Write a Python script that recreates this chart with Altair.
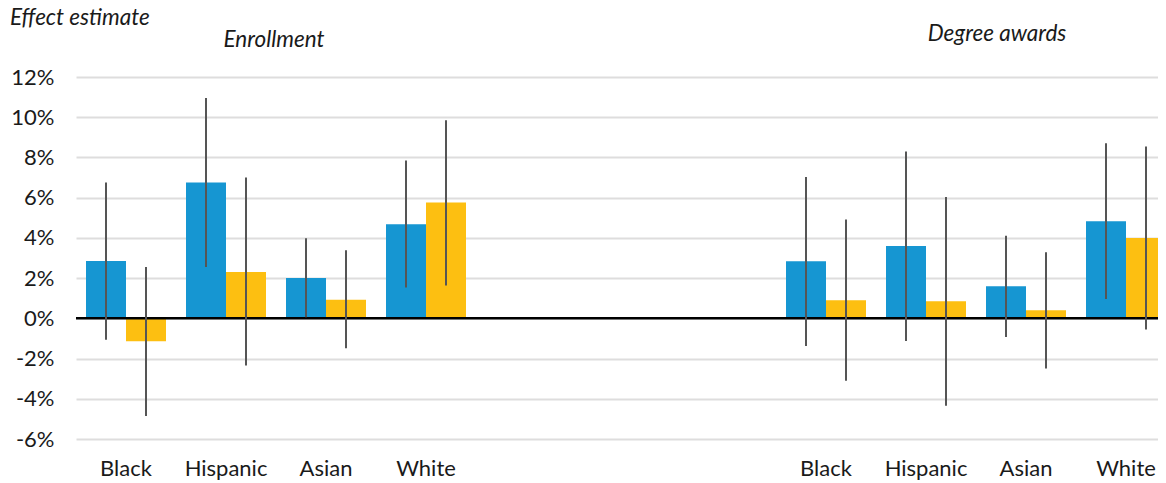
import altair as alt
import pandas as pd

categories = ["Black", "Hispanic", "Asian", "White"]
groups = ["Enrollment", "Degree awards"]
series = ["Estimate A", "Estimate B"]

enroll_a = [2.85, 6.75, 2.00, 4.68]
enroll_a_lo = [-1.06, 2.55, 0.05, 1.53]
enroll_a_hi = [6.75, 10.95, 3.98, 7.85]
enroll_b = [-1.14, 2.30, 0.93, 5.76]
enroll_b_lo = [-4.86, -2.35, -1.49, 1.63]
enroll_b_hi = [2.55, 7.00, 3.38, 9.85]

degree_a = [2.84, 3.60, 1.59, 4.83]
degree_a_lo = [-1.38, -1.13, -0.93, 0.96]
degree_a_hi = [7.03, 8.29, 4.11, 8.71]
degree_b = [0.90, 0.85, 0.40, 4.00]
degree_b_lo = [-3.10, -4.35, -2.50, -0.55]
degree_b_hi = [4.91, 6.03, 3.28, 8.54]

y_ticks = [-6, -4, -2, 0, 2, 4, 6, 8, 10, 12]

rows = []
for g, (a, alo, ahi, b, blo, bhi) in zip(
    groups,
    [
        (enroll_a, enroll_a_lo, enroll_a_hi, enroll_b, enroll_b_lo, enroll_b_hi),
        (degree_a, degree_a_lo, degree_a_hi, degree_b, degree_b_lo, degree_b_hi),
    ],
):
    for i, c in enumerate(categories):
        rows.append({"slot": f"{g}|{c}", "series": series[0], "value": a[i], "lo": alo[i], "hi": ahi[i]})
        rows.append({"slot": f"{g}|{c}", "series": series[1], "value": b[i], "lo": blo[i], "hi": bhi[i]})
df = pd.DataFrame(rows)

slots = [f"{groups[0]}|{c}" for c in categories] + ["gap1|", "gap2|", "gap3|"] + [f"{groups[1]}|{c}" for c in categories]

FONT = "Lato"
TXT = "#1a1a1a"

xenc = alt.X(
    "slot:N",
    scale=alt.Scale(domain=slots, range=[0, 1090], paddingInner=0.2, paddingOuter=0.05, align=1),
    sort=slots,
    axis=alt.Axis(
        title=None, labelExpr="split(datum.value, '|')[1]", labelAngle=0,
        labelFontSize=22, labelColor=TXT, labelPadding=19, ticks=False, domain=False, grid=False,
    ),
)
xoff = alt.XOffset("series:N", scale=alt.Scale(domain=series, paddingInner=0, paddingOuter=0))
yscale = alt.Scale(domain=[-6, 12], nice=False, zero=False)

base = alt.Chart(df)

bars = base.mark_bar().encode(
    x=xenc,
    xOffset=xoff,
    y=alt.Y(
        "value:Q", scale=yscale,
        axis=alt.Axis(
            title=None, values=y_ticks, labelExpr="datum.value + '%'", labelFontSize=22,
            labelColor=TXT, labelPadding=22, ticks=False, domain=False,
            grid=True, gridColor="#dedddd", gridWidth=2,
        ),
    ),
    y2=alt.datum(0),
    color=alt.Color("series:N", scale=alt.Scale(domain=series, range=["#1696d2", "#fdbf11"]), legend=None),
)

zero = alt.Chart(pd.DataFrame({"z": [0]})).mark_rule(color="#000000", strokeWidth=2.5).encode(
    y=alt.Y("z:Q", scale=yscale)
)

errs = base.mark_rule(color="#555555", strokeWidth=2).encode(
    x=xenc, xOffset=xoff, y=alt.Y("lo:Q", scale=yscale), y2="hi:Q"
)

def label(text, x, y, align):
    return alt.Chart(pd.DataFrame({"t": [text]})).mark_text(
        font=FONT, fontSize=22.5, fontStyle="italic", color=TXT, align=align, baseline="middle"
    ).encode(text="t:N", x=alt.value(x), y=alt.value(y))

t1 = label("Effect estimate", -66, -59, "left")
t2 = label(groups[0], 198, -37, "center")
t3 = label(groups[1], 921, -43, "center")

chart = alt.layer(bars, zero, errs, t1, t2, t3).properties(
    width=1082, height=362,
    autosize=alt.AutoSizeParams(type="none"),
    padding={"left": 68, "top": 69, "right": 0, "bottom": 42},
).configure(font=FONT).configure_view(stroke=None)

chart.save("out.html", embed_options={"renderer": "svg", "actions": False})
